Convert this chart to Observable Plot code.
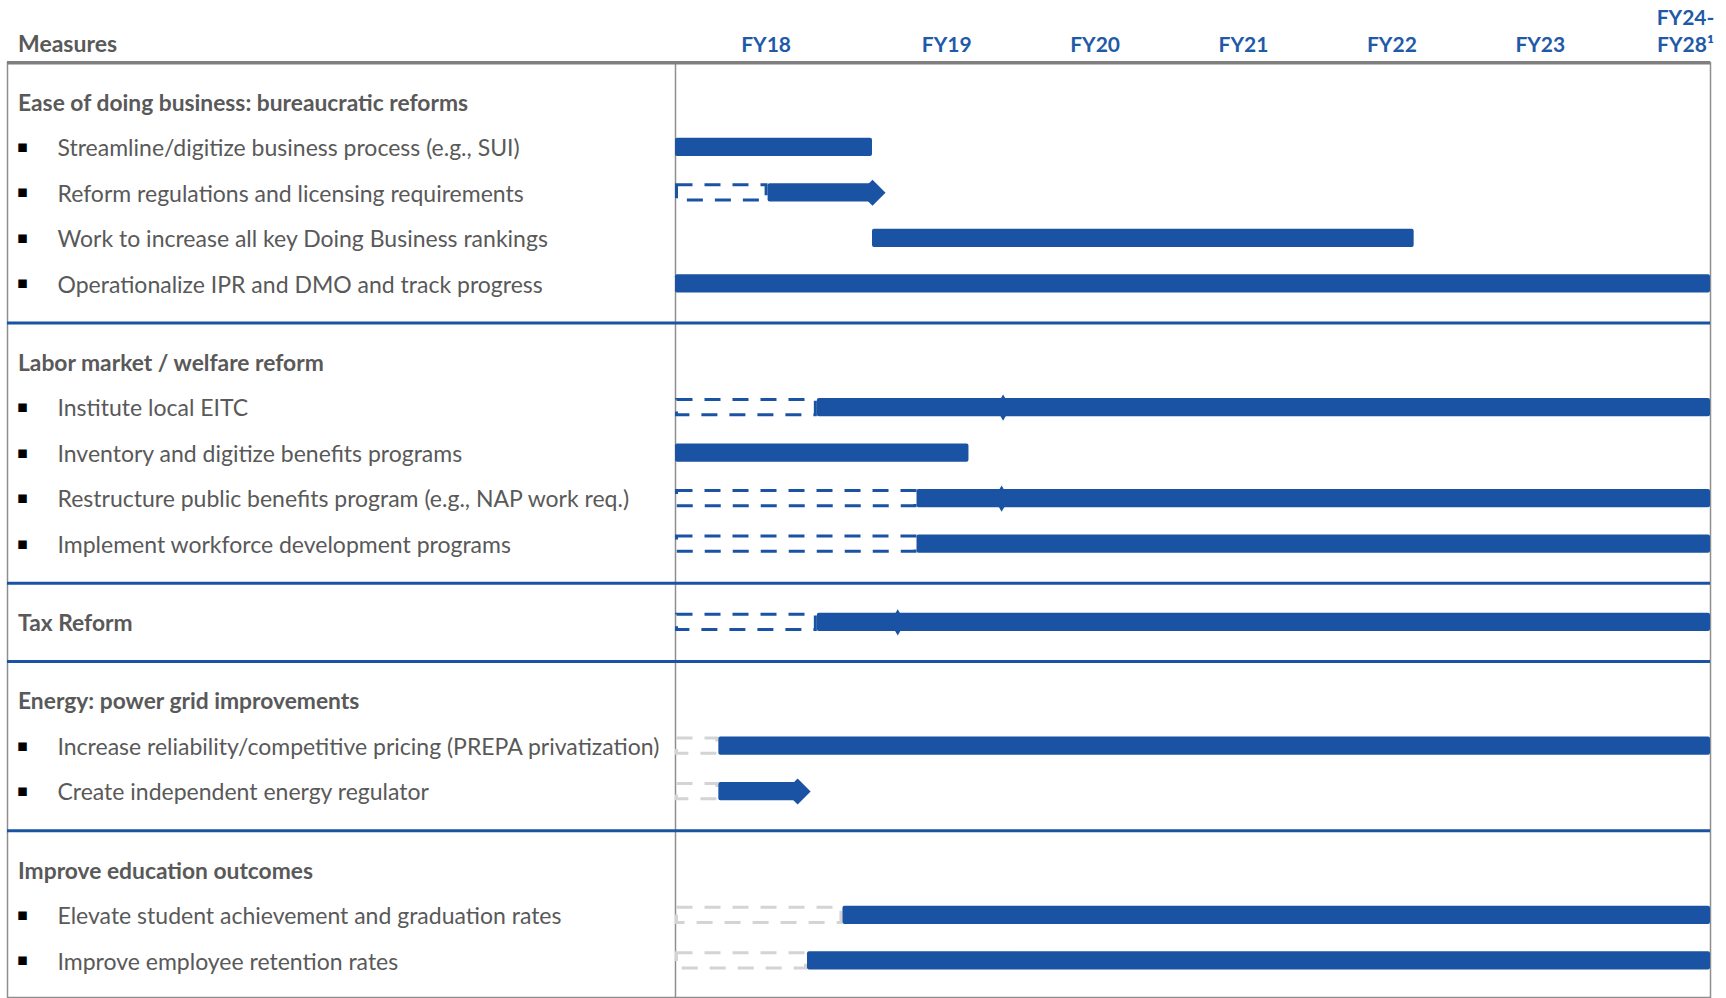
<!DOCTYPE html>
<html><head><meta charset="utf-8">
<script src="https://cdn.jsdelivr.net/npm/d3@7"></script>
<script src="https://cdn.jsdelivr.net/npm/@observablehq/plot@0.6"></script>
<style>html,body{margin:0;padding:0;background:#fff;}</style>
</head><body><div id="chart"></div>
<script>
// ---------- data ----------
const sectionTitles = [
  "Ease of doing business: bureaucratic reforms",
  "Labor market / welfare reform",
  "Tax Reform",
  "Energy: power grid improvements",
  "Improve education outcomes"
];
const sectionItems = [
  ["Streamline/digitize business process (e.g., SUI)",
   "Reform regulations and licensing requirements",
   "Work to increase all key Doing Business rankings",
   "Operationalize IPR and DMO and track progress"],
  ["Institute local EITC",
   "Inventory and digitize benefits programs",
   "Restructure public benefits program (e.g., NAP work req.)",
   "Implement workforce development programs"],
  [],
  ["Increase reliability/competitive pricing (PREPA privatization)",
   "Create independent energy regulator"],
  ["Elevate student achievement and graduation rates",
   "Improve employee retention rates"]
];
// column headers (fiscal-year periods) and their label positions on the time axis
const fyLabels = ["FY18", "FY19", "FY20", "FY21", "FY22", "FY23", "FY24-\nFY28\u00B9"];
const fyLabelAt = [2017.46, 2018.5, 2019.5, 2020.5, 2021.5, 2022.5, 2026.7];
const fyBreaks = [2017, 2018, 2023, 2028]; // FY18 | FY19..FY23 | FY24-FY28

// timeline rows
const barLabels = [
  "Streamline/digitize business process (e.g., SUI)",
  "Reform regulations and licensing requirements",
  "Work to increase all key Doing Business rankings",
  "Operationalize IPR and DMO and track progress",
  "Institute local EITC",
  "Inventory and digitize benefits programs",
  "Restructure public benefits program (e.g., NAP work req.)",
  "Implement workforce development programs",
  "Tax Reform",
  "Increase reliability/competitive pricing (PREPA privatization)",
  "Create independent energy regulator",
  "Elevate student achievement and graduation rates",
  "Improve employee retention rates"
];
const planStart   = [null, 2017, null, null, 2017, null, 2017, 2017, 2017, 2017, 2017, 2017, 2017];
const planKind    = [null, "blue", null, null, "blue", null, "blue", "blue", "blue", "gray", "gray", "gray", "gray"];
const activeStart = [2017, 2017.47, 2018, 2017, 2017.72, 2017, 2018.30, 2018.30, 2017.72, 2017.22, 2017.22, 2017.85, 2017.67];
const activeEnd   = [2018, 2018, 2021.65, 2028, 2028, 2018.65, 2028, 2028, 2028, 2028, 2017.62, 2028, 2028];
const endArrow    = [false, true, false, false, false, false, false, false, false, false, true, false, false];
const milestone   = [null, null, null, null, 2018.88, null, 2018.87, null, 2018.17, null, null, null, null];

// ---------- layout (row units) ----------
const g = 0.859;          // half gap around section separators, in row units
const rows = [], seps = [];
let p = 0;
sectionTitles.forEach((t, i) => {
  if (i > 0) { p += g; seps.push(p); p += g; }
  rows.push({label: t, kind: "title", p});
  sectionItems[i].forEach(it => { p += 1; rows.push({label: it, kind: "item", p}); });
});
const pLast = p, yTop = -g;
const pos = new Map(rows.map(r => [r.label, r.p]));
const bars = barLabels.map((l, i) => ({
  label: l, p: pos.get(l), planStart: planStart[i], planKind: planKind[i],
  start: activeStart[i], end: activeEnd[i], arrow: endArrow[i], milestone: milestone[i]
}));

const BLUE = "#1a53a3", GRAYLINE = "#8e8e8e", TEXT = "#595959", LIGHT = "#d4d4d4";
const bh = 0.2; // half bar thickness in row units
const FONT = "Lato, 'Open Sans', sans-serif";

const chart = Plot.plot({
  width: 1726, height: 998,
  marginTop: 62, marginBottom: 1, marginLeft: 7, marginRight: 16,
  style: {fontFamily: FONT, background: "white", overflow: "visible"},
  x: {type: "linear", domain: fyBreaks, range: [675, 872, 1614, 1710], axis: null},
  y: {type: "linear", domain: [0, pLast], range: [101.3, 960.3], axis: null},
  marks: [
    Plot.frame({stroke: GRAYLINE, strokeWidth: 1.5}),
    Plot.ruleX([fyBreaks[0]], {stroke: GRAYLINE, strokeWidth: 1.5}),
    Plot.ruleY([yTop], {stroke: "#7f7f7f", strokeWidth: 3.5}),
    Plot.ruleY(seps, {stroke: BLUE, strokeWidth: 3}),
    // planned (dashed) phase
    Plot.rect(bars.filter(d => d.planKind === "blue"), {
      x1: "planStart", x2: "start", y1: d => d.p - bh, y2: d => d.p + bh,
      fill: "none", stroke: BLUE, strokeWidth: 3, strokeDasharray: "16,12", inset: 1.5
    }),
    Plot.rect(bars.filter(d => d.planKind === "gray"), {
      x1: "planStart", x2: "start", y1: d => d.p - bh, y2: d => d.p + bh,
      fill: "none", stroke: LIGHT, strokeWidth: 3, strokeDasharray: "16,12", inset: 1.5
    }),
    // active phase
    Plot.rect(bars, {
      x1: "start", x2: "end", y1: d => d.p - bh, y2: d => d.p + bh,
      fill: BLUE, rx: 2
    }),
    Plot.dot(bars.filter(d => d.arrow), {x: "end", y: "p", symbol: "diamond2", r: 11.7, fill: BLUE, stroke: null}),
    Plot.dot(bars.filter(d => d.milestone != null), {x: "milestone", y: "p", symbol: "diamond", r: 8, fill: BLUE, stroke: null}),
    // left column text
    Plot.text(rows.filter(d => d.kind === "title"), {
      y: "p", text: "label", frameAnchor: "left", dx: 10.5, dy: 1.5, textAnchor: "start",
      fontWeight: "bold", fontSize: 22.8, fill: TEXT
    }),
    Plot.text(rows.filter(d => d.kind === "item"), {
      y: "p", text: () => "\u25AA", frameAnchor: "left", dx: 15, dy: -1, textAnchor: "middle",
      fontSize: 17, fill: "#000", fontFamily: "DejaVu Sans"
    }),
    Plot.text(rows.filter(d => d.kind === "item"), {
      y: "p", text: "label", frameAnchor: "left", dx: 50, dy: 1.5, textAnchor: "start",
      fontSize: 23, fill: TEXT
    }),
    // header
    Plot.text(["Measures"], {
      frameAnchor: "top-left", dx: 10.5, dy: -11, lineAnchor: "bottom", textAnchor: "start",
      fontWeight: "bold", fontSize: 23, fill: TEXT
    }),
    Plot.text(fyLabels, {
      x: (d, i) => fyLabelAt[i], frameAnchor: "top", dy: -11, lineAnchor: "bottom",
      fontWeight: "bold", fontSize: 21, fill: "#1f5aa8", lineHeight: 1.25
    })
  ]
});
document.getElementById("chart").appendChild(chart);
</script>
</body></html>
